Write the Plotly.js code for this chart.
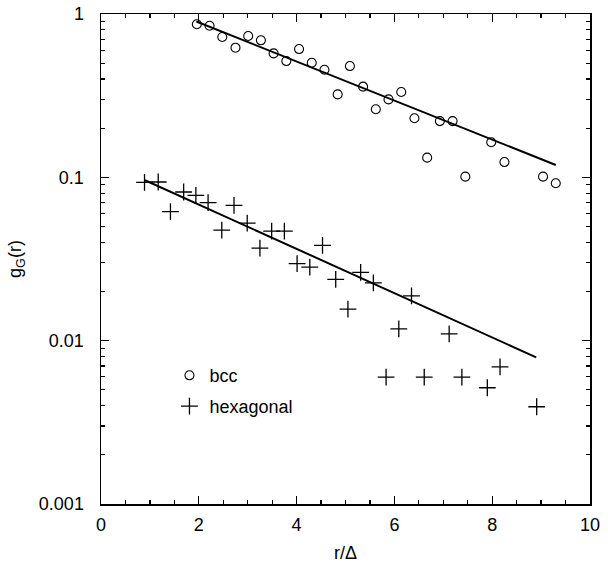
<!DOCTYPE html>
<html>
<head>
<meta charset="utf-8">
<script src="https://cdn.plot.ly/plotly-3.0.1.min.js"></script>
<style>html,body{margin:0;padding:0;background:#fff;}#plot{width:608px;height:566px;}</style>
</head>
<body>
<div id="plot"></div>
<script>
// bcc data
const bccX = [1.96, 2.22, 2.48, 2.75, 3.01, 3.27, 3.53, 3.79, 4.05, 4.31, 4.57, 4.84, 5.09, 5.36, 5.62, 5.88, 6.14, 6.41, 6.67, 6.93, 7.19, 7.45, 7.98, 8.25, 9.04, 9.30];
const bccY = [0.865, 0.848, 0.723, 0.622, 0.733, 0.690, 0.574, 0.515, 0.610, 0.503, 0.456, 0.322, 0.480, 0.359, 0.261, 0.300, 0.333, 0.230, 0.132, 0.221, 0.221, 0.101, 0.164, 0.124, 0.101, 0.092];
// hexagonal data
const hexX = [0.89, 1.17, 1.42, 1.69, 1.94, 2.19, 2.47, 2.72, 2.99, 3.25, 3.49, 3.75, 4.01, 4.27, 4.53, 4.80, 5.05, 5.31, 5.57, 5.83, 6.09, 6.35, 6.61, 7.12, 7.38, 7.90, 8.16, 8.91];
const hexY = [0.0932, 0.0936, 0.0616, 0.0813, 0.0776, 0.0700, 0.0475, 0.0674, 0.0525, 0.0369, 0.0469, 0.0469, 0.0296, 0.0282, 0.0383, 0.0237, 0.0156, 0.0262, 0.0226, 0.00598, 0.0118, 0.0188, 0.00598, 0.0110, 0.00598, 0.00515, 0.00692, 0.00394];
// fitted lines (endpoints)
const bccFitX = [1.95, 9.30];
const bccFitY = [0.90, 0.119];
const hexFitX = [0.90, 8.90];
const hexFitY = [0.096, 0.0079];
// axis ticks
const xTickVals = [0, 2, 4, 6, 8, 10];
const xTickText = ['0', '2', '4', '6', '8', '10'];
const yTickVals = [0.001, 0.01, 0.1, 1];
const yTickText = ['0.001', '0.01', '0.1', '1'];
const yMinorVals = [];
[0.001, 0.01, 0.1].forEach(d => { for (let k = 2; k <= 9; k++) yMinorVals.push(+(d * k).toPrecision(3)); });
const xMinorVals = [];
for (let v = 0.5; v < 10; v += 0.5) if (v % 2 !== 0) xMinorVals.push(v);

const FONT = 'Liberation Sans, Arial, Helvetica, sans-serif';

const traces = [
  {x: bccFitX, y: bccFitY, mode: 'lines', line: {color: '#000', width: 2}, showlegend: false, hoverinfo: 'skip'},
  {x: hexFitX, y: hexFitY, mode: 'lines', line: {color: '#000', width: 2}, showlegend: false, hoverinfo: 'skip'},
  {x: bccX, y: bccY, mode: 'markers', name: 'bcc', legend: 'legend',
   marker: {symbol: 'circle-open', size: 9, color: '#000', line: {width: 1.1, color: '#000'}}},
  {x: hexX, y: hexY, mode: 'markers', name: 'hexagonal', legend: 'legend2',
   marker: {symbol: 'cross-thin-open', size: 12, color: '#000', line: {width: 1.3, color: '#000'}}}
];

const axisCommon = {
  showline: true, linecolor: '#000', linewidth: 1.5, mirror: 'allticks',
  ticks: 'inside', ticklen: 8, tickwidth: 1.3, tickcolor: '#000',
  showgrid: false, zeroline: false,
  tickfont: {family: FONT, size: 18, color: '#000'}
};

const legendCommon = {
  bgcolor: 'rgba(0,0,0,0)', borderwidth: 0,
  font: {family: FONT, size: 18, color: '#000'},
  xanchor: 'left', yanchor: 'middle', itemwidth: 30
};

const layout = {
  width: 608, height: 566,
  margin: {l: 101, r: 18, t: 14, b: 62},
  paper_bgcolor: '#fff', plot_bgcolor: '#fff',
  xaxis: Object.assign({}, axisCommon, {
    range: [0, 10], tickmode: 'array', tickvals: xTickVals, ticktext: xTickText,
    minor: {tickmode: 'array', tickvals: xMinorVals, ticks: 'inside', ticklen: 4, tickwidth: 1.2, tickcolor: '#000'},
    ticklabelstandoff: 4,
    title: {text: 'r/Δ', font: {family: FONT, size: 18, color: '#000'}, standoff: 12}
  }),
  yaxis: Object.assign({}, axisCommon, {
    type: 'log', range: [-3, 0], tickmode: 'array', tickvals: yTickVals, ticktext: yTickText,
    minor: {tickmode: 'array', tickvals: yMinorVals, ticks: 'inside', ticklen: 4, tickwidth: 1.2, tickcolor: '#000'},
    ticklabelstandoff: 12,
    title: {text: 'g<sub>G</sub>(r)', font: {family: FONT, size: 18, color: '#000'}, standoff: 12}
  }),
  legend: Object.assign({}, legendCommon, {x: 0.14, y: 0.262}),
  legend2: Object.assign({}, legendCommon, {x: 0.14, y: 0.199}),
  showlegend: true
};

Plotly.newPlot('plot', traces, layout, {displayModeBar: false, staticPlot: true});
</script>
</body>
</html>
